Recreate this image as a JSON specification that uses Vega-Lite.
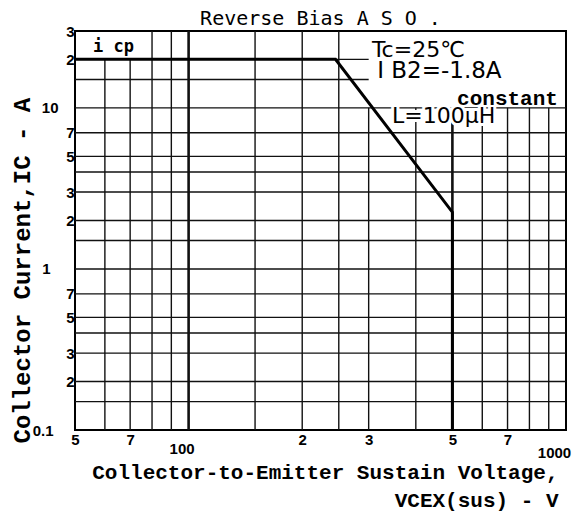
{
  "$schema": "https://vega.github.io/schema/vega-lite/v6.json",
  "width": 491,
  "height": 399,
  "autosize": {"type": "none"},
  "padding": {"left": 75, "top": 31, "right": 16, "bottom": 92},
  "background": "white",
  "title": {
    "text": "Reverse Bias A S O .",
    "font": "DejaVu Sans Mono",
    "fontSize": 20,
    "fontWeight": "normal",
    "color": "#000",
    "anchor": "middle",
    "offset": -5
  },
  "config": {
    "view": {"stroke": "#000", "strokeWidth": 2},
    "axis": {"grid": false, "ticks": false, "domain": false}
  },
  "datasets": {
    "vgrid": [
      {"v": 60, "lo": 0.1, "hi": 20},
      {"v": 70, "lo": 0.1, "hi": 20},
      {"v": 80, "lo": 0.1, "hi": 30},
      {"v": 90, "lo": 0.1, "hi": 30},
      {"v": 100, "lo": 0.1, "hi": 30},
      {"v": 150, "lo": 0.1, "hi": 30},
      {"v": 200, "lo": 0.1, "hi": 30},
      {"v": 250, "lo": 0.1, "hi": 30},
      {"v": 300, "lo": 0.1, "hi": 10},
      {"v": 400, "lo": 0.1, "hi": 10},
      {"v": 500, "lo": 0.1, "hi": 10},
      {"v": 600, "lo": 0.1, "hi": 10},
      {"v": 700, "lo": 0.1, "hi": 10},
      {"v": 800, "lo": 0.1, "hi": 10},
      {"v": 900, "lo": 0.1, "hi": 10}
    ],
    "hgrid": [
      {"i": 0.15, "lo": 50, "hi": 1000},
      {"i": 0.2, "lo": 50, "hi": 1000},
      {"i": 0.3, "lo": 50, "hi": 1000},
      {"i": 0.4, "lo": 50, "hi": 1000},
      {"i": 0.5, "lo": 50, "hi": 1000},
      {"i": 0.7, "lo": 50, "hi": 1000},
      {"i": 1, "lo": 50, "hi": 1000},
      {"i": 1.5, "lo": 50, "hi": 1000},
      {"i": 2, "lo": 50, "hi": 1000},
      {"i": 3, "lo": 50, "hi": 1000},
      {"i": 4, "lo": 50, "hi": 1000},
      {"i": 5, "lo": 50, "hi": 1000},
      {"i": 7, "lo": 50, "hi": 1000},
      {"i": 10, "lo": 50, "hi": 1000},
      {"i": 15, "lo": 50, "hi": 300},
      {"i": 20, "lo": 50, "hi": 300}
    ],
    "curve": [
      {"k": 1, "v": 50, "i": 20},
      {"k": 2, "v": 245, "i": 20},
      {"k": 3, "v": 500, "i": 2.25},
      {"k": 4, "v": 500, "i": 0.1}
    ],
    "notes": [
      {"key": "tc", "text": "Tc=25℃", "v": 306, "i": 23.0},
      {"key": "ib", "text": "I B2=-1.8A", "v": 316, "i": 16.9},
      {"key": "L", "text": "L=100μH", "v": 346, "i": 8.84},
      {"key": "const", "text": "constant", "v": 952, "i": 11.35},
      {"key": "icp", "text": "i cp", "v": 55.8, "i": 24.0}
    ]
  },
  "layer": [
    {
      "data": {"name": "curve"},
      "mark": {"type": "line", "color": "#000", "strokeWidth": 3, "opacity": 0},
      "encoding": {
        "x": {
          "field": "v", "type": "quantitative",
          "scale": {"type": "log", "domain": [50, 1000], "nice": false},
          "axis": {
            "values": [50, 70, 100, 200, 300, 500, 700, 1000],
            "labelExpr": "datum.value == 100 ? '100' : datum.value == 1000 ? '1000' : datum.value < 100 ? '' + round(datum.value / 10) : '' + round(datum.value / 100)",
            "labelFont": "Liberation Sans",
            "labelFontSize": 15,
            "labelFontWeight": "bold",
            "labelColor": "#000",
            "labelFlush": false,
            "labelOverlap": false,
            "labelBound": false,
            "labelPadding": {"condition": [{"test": "datum.value == 100", "value": 11}, {"test": "datum.value == 1000", "value": 15}], "value": 2},
            "labelOffset": {"condition": [{"test": "datum.value == 100", "value": -7}, {"test": "datum.value == 1000", "value": -12}], "value": 0},
            "title": ["Collector-to-Emitter Sustain Voltage,", "VCEX(sus) - V\u00a0"],
            "titleFont": "Liberation Mono",
            "titleFontSize": 21,
            "titleFontWeight": "bold",
            "titleColor": "#000",
            "titleAlign": "right",
            "titleAnchor": "end",
            "titleX": 483,
            "titleY": 48,
            "titleBaseline": "alphabetic",
            "titleLineHeight": 28
          }
        },
        "y": {
          "field": "i", "type": "quantitative",
          "scale": {"type": "log", "domain": [0.1, 30], "nice": false},
          "axis": {
            "values": [0.1, 0.2, 0.3, 0.5, 0.7, 1, 2, 3, 5, 7, 10, 20, 30],
            "labelExpr": "datum.value == 0.1 ? '0.1' : datum.value == 1 ? '1' : datum.value == 10 ? '10' : datum.value < 1 ? '' + round(datum.value * 10) : datum.value > 10 ? '' + round(datum.value / 10) : '' + round(datum.value)",
            "labelFont": "Liberation Sans",
            "labelFontSize": 15,
            "labelFontWeight": "bold",
            "labelColor": "#000",
            "labelFlush": false,
            "labelOverlap": false,
            "labelBound": false,
            "labelPadding": {"condition": [{"test": "datum.value == 10", "value": 17}, {"test": "datum.value == 1", "value": 25}, {"test": "datum.value == 0.1", "value": 22}], "value": 1},
            "title": "Collector Current,IC - A",
            "titleFont": "Liberation Mono",
            "titleFontSize": 24,
            "titleFontWeight": "bold",
            "titleColor": "#000",
            "titleAngle": -90,
            "titleAlign": "left",
            "titleBaseline": "middle",
            "titleX": -53,
            "titleY": 412
          }
        },
        "order": {"field": "k", "type": "quantitative"}
      }
    },
    {
      "data": {"name": "vgrid"},
      "mark": {"type": "rule", "color": "#111"},
      "encoding": {
        "x": {"field": "v", "type": "quantitative", "scale": {"type": "log", "domain": [50, 1000], "nice": false}},
        "y": {"field": "lo", "type": "quantitative", "scale": {"type": "log", "domain": [0.1, 30], "nice": false}},
        "y2": {"field": "hi"},
        "strokeWidth": {"condition": {"test": "datum.v == 100 || datum.v == 500", "value": 2.6}, "value": 1.4}
      }
    },
    {
      "data": {"name": "hgrid"},
      "mark": {"type": "rule", "color": "#111", "strokeWidth": 1.4},
      "encoding": {
        "y": {"field": "i", "type": "quantitative", "scale": {"type": "log", "domain": [0.1, 30], "nice": false}},
        "x": {"field": "lo", "type": "quantitative", "scale": {"type": "log", "domain": [50, 1000], "nice": false}},
        "x2": {"field": "hi"}
      }
    },
    {
      "data": {"name": "notes"},
      "transform": [{"filter": "datum.key == 'L'"}],
      "mark": {"type": "text", "align": "left", "baseline": "middle", "font": "DejaVu Sans", "fontSize": 22, "color": "white", "stroke": "white", "strokeWidth": 6},
      "encoding": {
        "x": {"field": "v", "type": "quantitative", "scale": {"type": "log", "domain": [50, 1000], "nice": false}},
        "y": {"field": "i", "type": "quantitative", "scale": {"type": "log", "domain": [0.1, 30], "nice": false}},
        "text": {"field": "text"}
      }
    },
    {
      "data": {"name": "curve"},
      "mark": {"type": "line", "color": "#000", "strokeWidth": 3},
      "encoding": {
        "x": {"field": "v", "type": "quantitative", "scale": {"type": "log", "domain": [50, 1000], "nice": false}},
        "y": {"field": "i", "type": "quantitative", "scale": {"type": "log", "domain": [0.1, 30], "nice": false}},
        "order": {"field": "k", "type": "quantitative"}
      }
    },
    {
      "data": {"name": "notes"},
      "transform": [{"filter": "datum.key == 'tc' || datum.key == 'L'"}],
      "mark": {"type": "text", "align": "left", "baseline": "middle", "font": "DejaVu Sans", "fontSize": 22, "color": "#000"},
      "encoding": {
        "x": {"field": "v", "type": "quantitative", "scale": {"type": "log", "domain": [50, 1000], "nice": false}},
        "y": {"field": "i", "type": "quantitative", "scale": {"type": "log", "domain": [0.1, 30], "nice": false}},
        "text": {"field": "text"}
      }
    },
    {
      "data": {"name": "notes"},
      "transform": [{"filter": "datum.key == 'ib'"}],
      "mark": {"type": "text", "align": "left", "baseline": "middle", "font": "DejaVu Sans", "fontSize": 23, "color": "#000"},
      "encoding": {
        "x": {"field": "v", "type": "quantitative", "scale": {"type": "log", "domain": [50, 1000], "nice": false}},
        "y": {"field": "i", "type": "quantitative", "scale": {"type": "log", "domain": [0.1, 30], "nice": false}},
        "text": {"field": "text"}
      }
    },
    {
      "data": {"name": "notes"},
      "transform": [{"filter": "datum.key == 'const'"}],
      "mark": {"type": "text", "align": "right", "baseline": "middle", "font": "Liberation Mono", "fontSize": 21, "fontWeight": "bold", "color": "#000"},
      "encoding": {
        "x": {"field": "v", "type": "quantitative", "scale": {"type": "log", "domain": [50, 1000], "nice": false}},
        "y": {"field": "i", "type": "quantitative", "scale": {"type": "log", "domain": [0.1, 30], "nice": false}},
        "text": {"field": "text"}
      }
    },
    {
      "data": {"name": "notes"},
      "transform": [{"filter": "datum.key == 'icp'"}],
      "mark": {"type": "text", "align": "left", "baseline": "middle", "font": "DejaVu Sans Mono", "fontSize": 17, "fontWeight": "bold", "color": "#000"},
      "encoding": {
        "x": {"field": "v", "type": "quantitative", "scale": {"type": "log", "domain": [50, 1000], "nice": false}},
        "y": {"field": "i", "type": "quantitative", "scale": {"type": "log", "domain": [0.1, 30], "nice": false}},
        "text": {"field": "text"}
      }
    }
  ]
}
